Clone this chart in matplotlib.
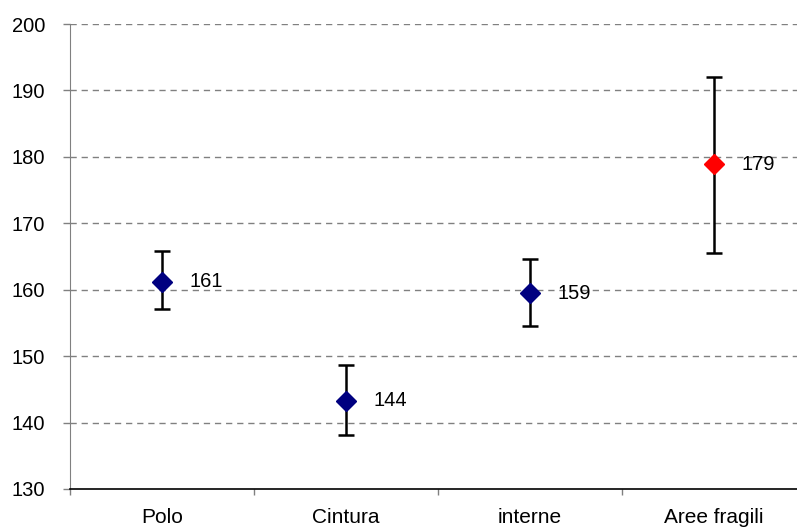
import matplotlib
matplotlib.use("Agg")
import matplotlib.pyplot as plt
import numpy as np

plt.rcParams['font.family'] = ['Liberation Sans', 'DejaVu Sans']

categories = ["Polo", "Cintura", "interne", "Aree fragili"]
values = [161.2, 143.3, 159.5, 178.9]
upper = [165.8, 148.7, 164.6, 192.0]
lower = [157.1, 138.1, 154.5, 165.5]
labels = ["161", "144", "159", "179"]
colors = ["#000080", "#000080", "#000080", "#FF0000"]

fig = plt.figure(figsize=(7.97, 5.29), dpi=100)
W, H = 797, 529
ax = fig.add_axes([70 / W, (H - 489) / H, (806 - 70) / W, (489 - 24) / H])

x = np.arange(len(categories)) + 0.5
for xi, v, u, l, c, t in zip(x, values, upper, lower, colors, labels):
    ax.errorbar([xi], [v], yerr=[[v - l], [u - v]], fmt='none', ecolor='black',
                elinewidth=1.8, capsize=5.8, capthick=1.8, zorder=3)
    ax.plot([xi], [v], marker='D', markersize=10, color=c, linestyle='none', zorder=4)
    ax.annotate(t, (xi, v), xytext=(19.5, 0), textcoords='offset points',
                ha='left', va='center', fontsize=14.5, color='black')

ax.set_xlim(0, 4)
ax.set_ylim(130, 200)
ax.set_yticks(np.arange(130, 201, 10))
ax.set_xticks([0, 1, 2, 3, 4])
ax.set_xticklabels([])
ax.set_xticks(x, minor=True)
ax.set_xticklabels(categories, minor=True, fontsize=15)
ax.tick_params(axis='x', which='minor', length=0, pad=14)
ax.tick_params(axis='x', which='major', length=4, color='#808080', width=1)
ax.tick_params(axis='y', length=5, color='#808080', width=1, labelsize=14.5, pad=13)

for yv in range(140, 201, 10):
    ax.axhline(yv, color='#808080', linewidth=1, linestyle=(0, (4.5, 3.5)), zorder=1)

ax.spines['top'].set_visible(False)
ax.spines['right'].set_visible(False)
ax.spines['left'].set_color('#808080')
ax.spines['bottom'].set_color('black')
ax.spines['bottom'].set_linewidth(1.2)

fig.savefig("out.png", dpi=100)
